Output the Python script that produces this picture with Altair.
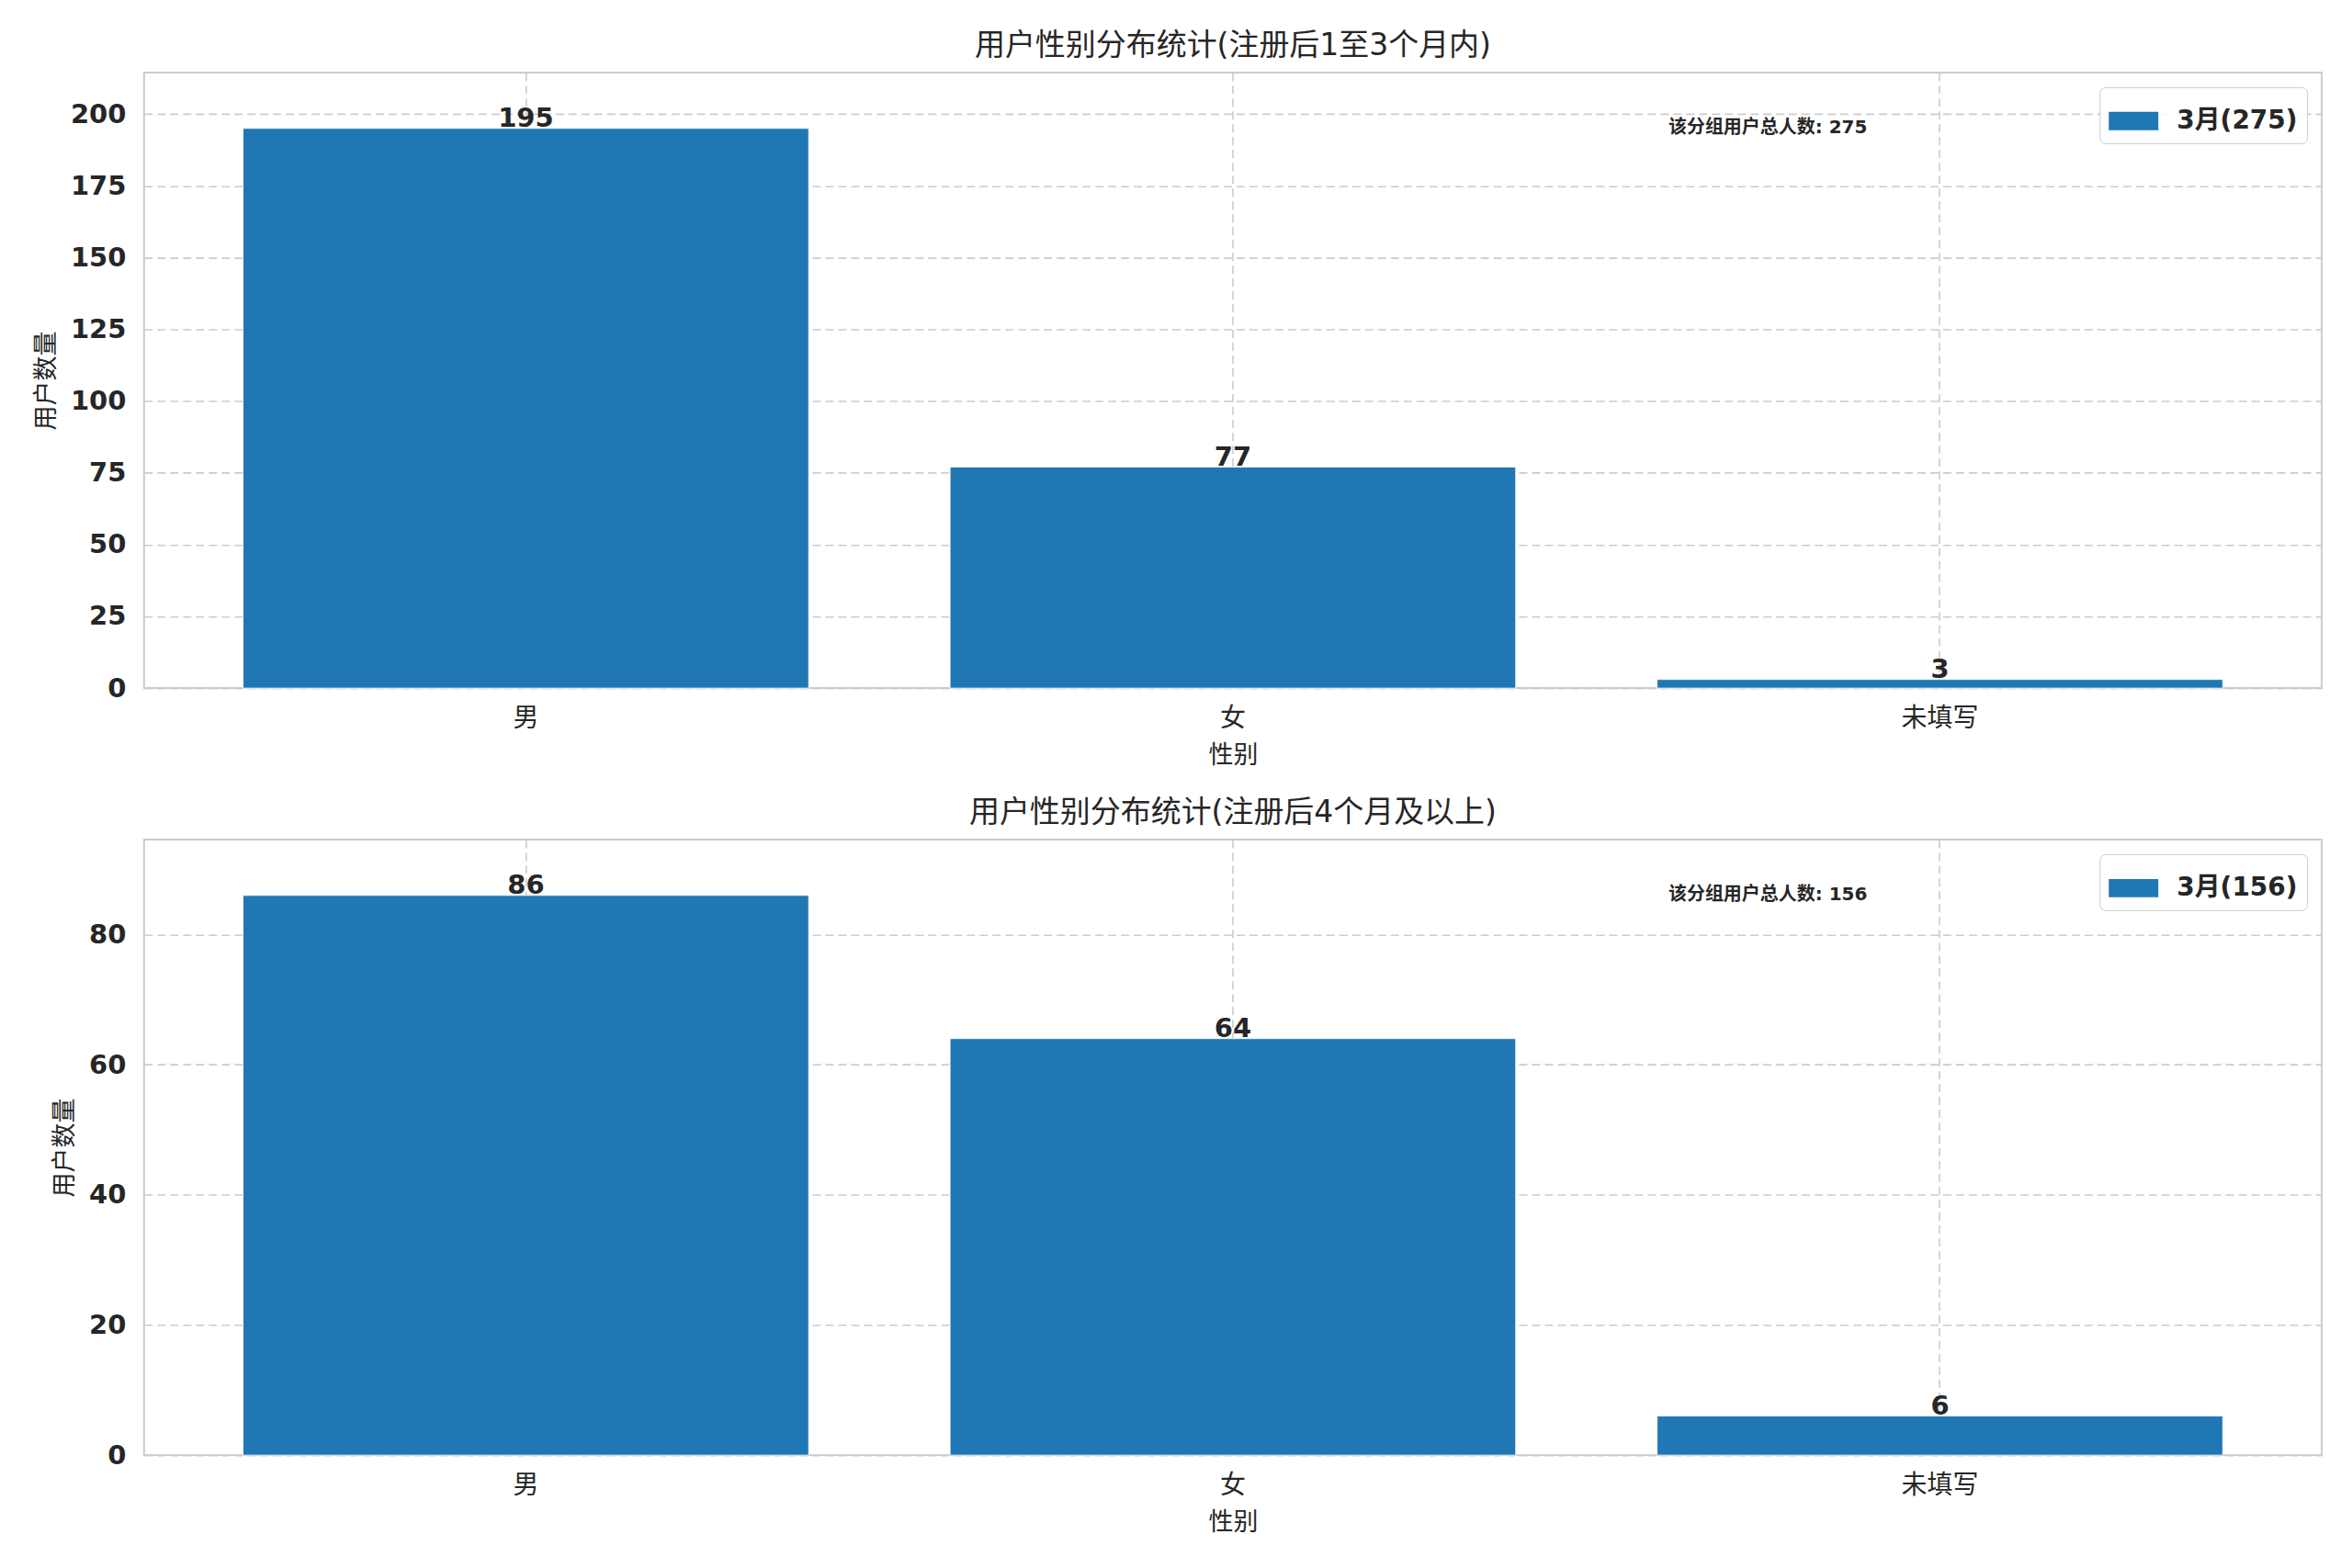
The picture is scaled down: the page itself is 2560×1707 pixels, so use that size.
import altair as alt
import pandas as pd

# ---- data ----
categories = ["男", "女", "未填写"]
values_top = [195, 77, 3]
values_bottom = [86, 64, 6]
titles = ["用户性别分布统计(注册后1至3个月内)", "用户性别分布统计(注册后4个月及以上)"]
legend_month = "3月"
y_max = [214.5, 94.6]
y_ticks_top = [0, 25, 50, 75, 100, 125, 150, 175, 200]
y_ticks_bottom = [0, 20, 40, 60, 80]
x_title = "性别"
y_title = "用户数量"
note_prefix = "该分组用户总人数"

FONT = "DejaVu Sans, Noto Sans CJK SC, sans-serif"
BAR = "#1f77b4"
TEXT = "#262626"
GRID = "#cccccc"
W, H = 2373, 671


def panel(vals, title, ymax, ticks):
    total = sum(vals)
    label = f"{legend_month}({total})"
    df = pd.DataFrame({"cat": categories, "n": vals, "series": [label] * len(vals)})
    x = alt.X(
        "cat:N", sort=categories, title=x_title,
        scale=alt.Scale(paddingInner=0.2, paddingOuter=0.14),
        axis=alt.Axis(labelAngle=0, grid=True, bandPosition=0.5, ticks=False, domain=False,
                      labelFontSize=28, labelPadding=19, titleFontSize=27, titlePadding=13,
                      titleFontWeight="normal"),
    )
    y = alt.Y(
        "n:Q", title=y_title,
        scale=alt.Scale(domain=[0, ymax], nice=False, zero=True),
        axis=alt.Axis(values=ticks, grid=True, ticks=False, domain=False,
                      labelFontSize=29, labelFontWeight="bold", labelPadding=20,
                      titleFontSize=27, titlePadding=12, titleFontWeight="normal"),
    )
    base = alt.Chart(df)
    bars = base.mark_bar(stroke="#ffffff", strokeWidth=0.8).encode(
        x=x, y=y,
        color=alt.Color(
            "series:N", scale=alt.Scale(domain=[label], range=[BAR]),
            legend=alt.Legend(
                title=None, orient="top-right", offset=16, padding=10,
                strokeColor=GRID, cornerRadius=6, fillColor="rgba(255,255,255,0.85)",
                symbolType="M-1,-0.37L1,-0.37L1,0.37L-1,0.37Z", symbolSize=2916,
                symbolStrokeWidth=0, symbolOpacity=1,
                labelFontSize=28, labelFontWeight="bold", labelFont=FONT,
                labelColor=TEXT, labelOffset=20,
            ),
        ),
    )
    labels = base.mark_text(
        baseline="alphabetic", dy=-2, fontSize=29, fontWeight="bold", color=TEXT, font=FONT
    ).encode(x=alt.X("cat:N", sort=categories), y=alt.Y("n:Q"), text="n:Q")
    note = alt.Chart(pd.DataFrame({"t": [f"{note_prefix}: {total}"]})).mark_text(
        align="left", baseline="middle", fontSize=20, fontWeight="bold", color=TEXT, font=FONT
    ).encode(x=alt.value(0.7 * W), y=alt.value(60), text="t:N")
    return alt.layer(bars, labels, note).properties(
        width=W, height=H,
        title=alt.TitleParams(title, fontSize=33, fontWeight="normal", font=FONT,
                              color=TEXT, offset=12, anchor="middle"),
    )


chart = alt.vconcat(
    panel(values_top, titles[0], y_max[0], y_ticks_top),
    panel(values_bottom, titles[1], y_max[1], y_ticks_bottom),
    spacing=32,
).resolve_scale(y="independent", color="independent").resolve_legend(
    color="independent"
).properties(
    padding={"left": 27, "top": 24, "right": 24, "bottom": 5},
    background="white",
).configure_view(
    stroke=GRID, strokeWidth=2
).configure_axis(
    labelFont=FONT, titleFont=FONT, labelColor=TEXT, titleColor=TEXT,
    gridColor=GRID, gridDash=[9, 5], gridWidth=1.6, gridOpacity=1,
)

chart.save("out.html", embed_options={"renderer": "svg", "actions": False})
